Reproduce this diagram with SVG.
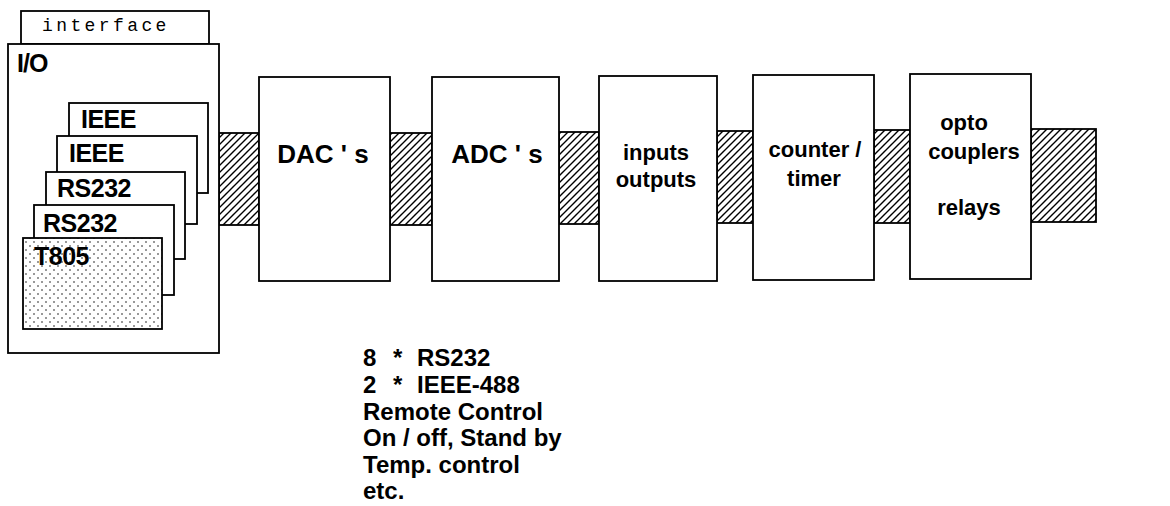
<svg xmlns="http://www.w3.org/2000/svg" width="1170" height="506" viewBox="0 0 1170 506">
<style>
.box{fill:#fff;stroke:#000;stroke-width:1.8}
.bus{fill:url(#hatch);stroke:#000;stroke-width:1.8}
.lbl{font-family:"Liberation Sans",Arial,sans-serif;font-weight:bold;fill:#000}
.big{font-size:25px}
.mid{font-size:22px}
.note{font-size:24px}
.mono{font-family:"Liberation Mono","Courier New",monospace;font-size:18px;letter-spacing:3.4px;fill:#000}
</style>
<defs>
<pattern id="hatch" patternUnits="userSpaceOnUse" width="7" height="7">
<path d="M-1,1 L1,-1 M0,7 L7,0 M6,8 L8,6" stroke="#000" stroke-width="1.4"/>
</pattern>
<pattern id="dots" patternUnits="userSpaceOnUse" width="8" height="8">
<rect width="8" height="8" fill="#fff"/>
<circle cx="2" cy="2" r="0.75" fill="#000"/>
<circle cx="6" cy="6" r="0.75" fill="#000"/>
</pattern>
</defs>

<g id="connectors">
<rect class="bus" x="219" y="133" width="40" height="92"/>
<rect class="bus" x="390" y="133" width="42" height="92"/>
<rect class="bus" x="559" y="132" width="40" height="92"/>
<rect class="bus" x="717" y="131" width="36" height="92"/>
<rect class="bus" x="874" y="130" width="36" height="93"/>
<rect class="bus" x="1031" y="129" width="65" height="93"/>
</g>

<g id="interface">
<rect class="box" x="21" y="11" width="188" height="33"/>
<text class="mono" x="42" y="31">interface</text>
</g>

<g id="io">
<rect class="box" x="8" y="44" width="211" height="309"/>
<text class="lbl big" x="17" y="72" letter-spacing="-1">I/O</text>
</g>

<g id="ieee1">
<rect class="box" x="69" y="103" width="139" height="90"/>
<text class="lbl big" x="81" y="128" letter-spacing="-0.5">IEEE</text>
</g>
<g id="ieee2">
<rect class="box" x="57" y="136" width="140" height="88"/>
<text class="lbl big" x="69" y="162" letter-spacing="-0.5">IEEE</text>
</g>
<g id="rs232a">
<rect class="box" x="46" y="172" width="139" height="87"/>
<text class="lbl big" x="57" y="197" letter-spacing="-0.5">RS232</text>
</g>
<g id="rs232b">
<rect class="box" x="34" y="205" width="140" height="90"/>
<text class="lbl big" x="43" y="232" letter-spacing="-0.5">RS232</text>
</g>
<g id="t805">
<rect x="23" y="238" width="139" height="91" fill="url(#dots)" stroke="#000" stroke-width="1.8"/>
<text class="lbl big" x="34" y="265" letter-spacing="-0.5">T805</text>
</g>

<g id="dac">
<rect class="box" x="259" y="77" width="131" height="204"/>
<text class="lbl" x="323" y="163" font-size="26" text-anchor="middle">DAC ' s</text>
</g>
<g id="adc">
<rect class="box" x="432" y="77" width="127" height="204"/>
<text class="lbl" x="497" y="163" font-size="26" text-anchor="middle">ADC ' s</text>
</g>
<g id="io-lines">
<rect class="box" x="599" y="76" width="118" height="205"/>
<text class="lbl mid" x="656" y="160" text-anchor="middle">inputs</text>
<text class="lbl mid" x="656" y="187" text-anchor="middle">outputs</text>
</g>
<g id="counter">
<rect class="box" x="753" y="75" width="121" height="205"/>
<text class="lbl mid" x="815" y="157" text-anchor="middle">counter /</text>
<text class="lbl mid" x="814" y="186" text-anchor="middle">timer</text>
</g>
<g id="opto">
<rect class="box" x="910" y="74" width="121" height="205"/>
<text class="lbl mid" x="964" y="130" text-anchor="middle">opto</text>
<text class="lbl mid" x="974" y="159" text-anchor="middle">couplers</text>
<text class="lbl mid" x="969" y="215" text-anchor="middle">relays</text>
</g>

<g id="notes">
<text class="lbl note" y="366"><tspan x="363">8</tspan><tspan x="393">*</tspan><tspan x="417">RS232</tspan></text>
<text class="lbl note" y="393"><tspan x="363">2</tspan><tspan x="393">*</tspan><tspan x="417">IEEE-488</tspan></text>
<text class="lbl note" x="363" y="419.5">Remote Control</text>
<text class="lbl note" x="363" y="446">On / off, Stand by</text>
<text class="lbl note" x="363" y="472.5">Temp. control</text>
<text class="lbl note" x="363" y="499">etc.</text>
</g>
</svg>
